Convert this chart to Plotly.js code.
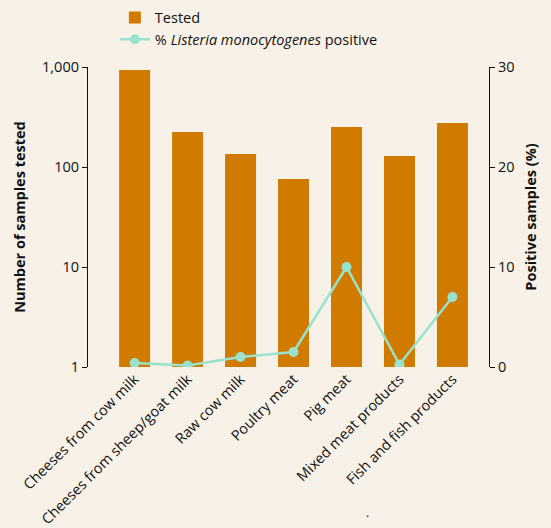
<!DOCTYPE html>
<html>
<head>
<meta charset="utf-8">
<script src="https://cdn.plot.ly/plotly-3.0.1.min.js"></script>
<style>html,body{margin:0;padding:0;background:#F8F1E8;}</style>
</head>
<body>
<div id="chart" style="width:551px;height:528px;"></div>
<script>
const categories = ["Cheeses from cow milk", "Cheeses from sheep/goat milk", "Raw cow milk", "Poultry meat", "Pig meat", "Mixed meat products", "Fish and fish products"];
const tested = [933, 224, 135, 76, 251, 129, 275];
const positivePct = [0.4, 0.15, 1.0, 1.5, 10.0, 0.25, 7.0];
const leftTickVals = [1, 10, 100, 1000];
const leftTickText = ["1", "10", "100", "1,000"];
const rightTickVals = [0, 10, 20, 30];

const font = "Open Sans, Noto Sans, sans-serif";

const traces = [
  {
    type: "bar", x: categories, y: tested, name: "Tested",
    marker: {color: "#D17A00"}, width: 0.585, yaxis: "y"
  },
  {
    type: "scatter", mode: "lines+markers", x: categories, y: positivePct,
    name: "% <i>Listeria monocytogenes</i> positive", yaxis: "y2",
    line: {color: "#98E3CD", width: 2.5}, marker: {color: "#98E3CD", size: 10}
  }
];

const layout = {
  width: 551, height: 528,
  paper_bgcolor: "#F8F1E8", plot_bgcolor: "#F8F1E8",
  font: {family: font, size: 14, color: "#111"},
  margin: {l: 88, r: 62, t: 0, b: 161},
  showlegend: true,
  legend: {x: 0.067, xanchor: "left", y: 0.996, yanchor: "top",
           orientation: "v", bgcolor: "rgba(0,0,0,0)", font: {size: 14.5}},
  xaxis: {
    range: [-0.88, 6.69], tickangle: -45, ticks: "", showline: false,
    showgrid: false, zeroline: false, tickfont: {size: 14.5}
  },
  yaxis: {
    domain: [0, 0.8174],
    type: "log", range: [0, 3], tickvals: leftTickVals, ticktext: leftTickText,
    showline: true, linecolor: "#111", linewidth: 1.2, ticks: "outside", ticklen: 5,
    tickcolor: "#111", showgrid: false, zeroline: false, tickfont: {size: 14.5},
    title: {text: "<b>Number of samples tested</b>", font: {size: 14.5}, standoff: 12}
  },
  yaxis2: {
    overlaying: "y", side: "right", range: [0, 30], tickvals: rightTickVals,
    showline: true, linecolor: "#111", linewidth: 1.2, ticks: "outside", ticklen: 5,
    tickcolor: "#111", showgrid: false, zeroline: false, tickfont: {size: 14.5},
    title: {text: "<b>Positive samples (%)</b>", font: {size: 14.5}, standoff: 12}
  },
  annotations: [
    {text: ".", xref: "paper", yref: "paper", x: 0.706, y: -0.425, showarrow: false, font: {size: 12}}
  ]
};

Plotly.newPlot("chart", traces, layout, {displayModeBar: false});
</script>
</body>
</html>
